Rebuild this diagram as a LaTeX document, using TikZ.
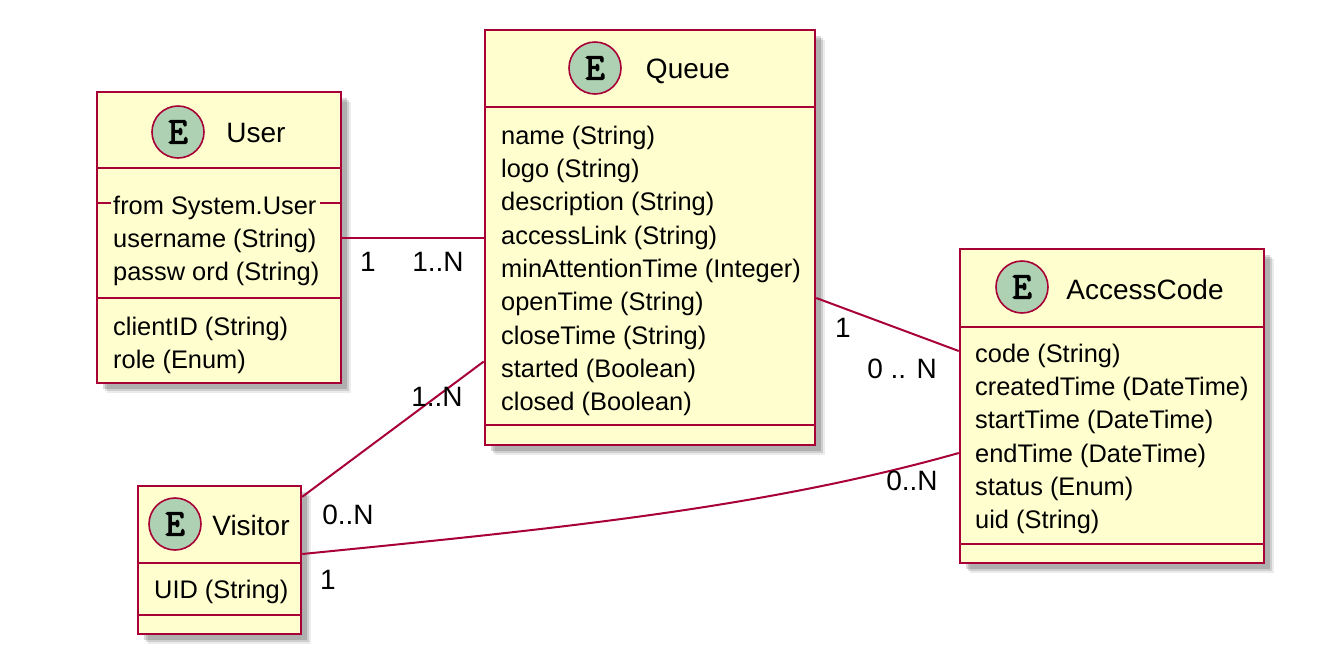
\documentclass[tikz,border=0pt]{standalone}
\usepackage{fontspec}
\setmainfont{Liberation Sans}
\newfontfamily\ebold[FakeBold=3]{Latin Modern Mono}
\usetikzlibrary{shadows}
\definecolor{umlred}{HTML}{A80036}
\definecolor{umlfill}{HTML}{FEFECE}
\definecolor{umlcirc}{HTML}{ADD1B2}
\tikzset{
 entity/.style={draw=umlred, fill=umlfill, line width=2.5pt, inner sep=0pt, rectangle,
   drop shadow={shadow xshift=10pt, shadow yshift=-10pt, fill=black, opacity=0.08},
   drop shadow={shadow xshift=8pt, shadow yshift=-8pt, fill=black, opacity=0.12},
   drop shadow={shadow xshift=6pt, shadow yshift=-6pt, fill=black, opacity=0.15}},
 sepline/.style={draw=umlred, line width=2.5pt},
 badge/.style={circle, draw=umlred, fill=umlcirc, line width=1.6pt, minimum size=52pt, inner sep=0pt,
   font=\ebold\fontsize{38}{38}\selectfont},
 title/.style={anchor=base, inner sep=0pt, font=\fontsize{28}{32}\selectfont},
 attr/.style={anchor=base west, inner sep=0pt, font=\fontsize{25.4}{30}\selectfont},
 conn/.style={draw=umlred, line width=2pt},
 mult/.style={inner sep=0pt, font=\fontsize{28}{32}\selectfont}
}
\begin{document}
\begin{tikzpicture}[x=1pt,y=-1pt]
\useasboundingbox[fill=white] (0,0) rectangle (1333,665);

% ---------- User ----------
\node[entity, minimum width=244pt, minimum height=291pt] (user) at (219,237.5) {};
\draw[sepline] (97,168) -- (341,168);
\draw[sepline] (97,203) -- (111,203);
\draw[sepline] (320,203) -- (341,203);
\draw[sepline] (97,298) -- (341,298);
\node[badge] (userE) at (178,132) {E};
\node[title] (userT) at (256,142) {User};
\node[attr] (u1) at (113,214) {from System.User};
\node[attr] (u2) at (113,247) {username (String)};
\node[attr] (u3) at (113,280) {passw ord (String)};
\node[attr] (u4) at (113,335) {clientID (String)};
\node[attr] (u5) at (113,368) {role (Enum)};

% ---------- Queue ----------
\node[entity, minimum width=330pt, minimum height=415pt] (queue) at (650,237.5) {};
\draw[sepline] (485,107) -- (815,107);
\draw[sepline] (485,425) -- (815,425);
\node[badge] (queueE) at (595,68) {E};
\node[title] (queueT) at (688,78) {Queue};
\node[attr] (q1) at (501,144) {name (String)};
\node[attr] (q2) at (501,177.3) {logo (String)};
\node[attr] (q3) at (501,210.7) {description (String)};
\node[attr] (q4) at (501,244) {accessLink (String)};
\node[attr] (q5) at (501,277.3) {minAttentionTime (Integer)};
\node[attr] (q6) at (501,310.7) {openTime (String)};
\node[attr] (q7) at (501,344) {closeTime (String)};
\node[attr] (q8) at (501,377.3) {started (Boolean)};
\node[attr] (q9) at (501,410.7) {closed (Boolean)};

% ---------- AccessCode ----------
\node[entity, minimum width=304pt, minimum height=314pt] (access) at (1112,406) {};
\draw[sepline] (960,327) -- (1264,327);
\draw[sepline] (960,544) -- (1264,544);
\node[badge] (accessE) at (1022,287) {E};
\node[title] (accessT) at (1145,299) {AccessCode};
\node[attr] (a1) at (975,362) {code (String)};
\node[attr] (a2) at (975,395.3) {createdTime (DateTime)};
\node[attr] (a3) at (975,428.7) {startTime (DateTime)};
\node[attr] (a4) at (975,462) {endTime (DateTime)};
\node[attr] (a5) at (975,495.3) {status (Enum)};
\node[attr] (a6) at (975,528.7) {uid (String)};

% ---------- Visitor ----------
\node[entity, minimum width=163pt, minimum height=148pt] (visitor) at (219.5,560) {};
\draw[sepline] (138,563) -- (301,563);
\draw[sepline] (138,615) -- (301,615);
\node[badge] (visitorE) at (175,524) {E};
\node[title] (visitorT) at (251,535) {Visitor};
\node[attr] (v1) at (154,598) {UID (String)};

% ---------- Connectors ----------
\draw[conn] (user.east) -- (user.east -| queue.west);
\draw[conn] ([yshift=-124pt]queue.west) -- ([yshift=-12pt]visitor.north east);
\draw[conn] ([yshift=-60.5pt]queue.east) -- ([yshift=55pt]access.west);
\draw[conn] ([yshift=6pt]visitor.east) .. controls (552,529) and (760,509) .. ([yshift=-47pt]access.west);

% ---------- Multiplicities ----------
\node[mult] (m1) at (368,262) {1};
\node[mult] (m2) at (438,262) {1..N};
\node[mult] (m3) at (437,397) {1..N};
\node[mult] (m4) at (348,515) {0..N};
\node[mult] (m5) at (328,580) {1};
\node[mult] (m6) at (843,328) {1};
\node[mult] (m7) at (902,369) {0 .. N};
\node[mult] (m8) at (912,481) {0..N};
\end{tikzpicture}
\end{document}
